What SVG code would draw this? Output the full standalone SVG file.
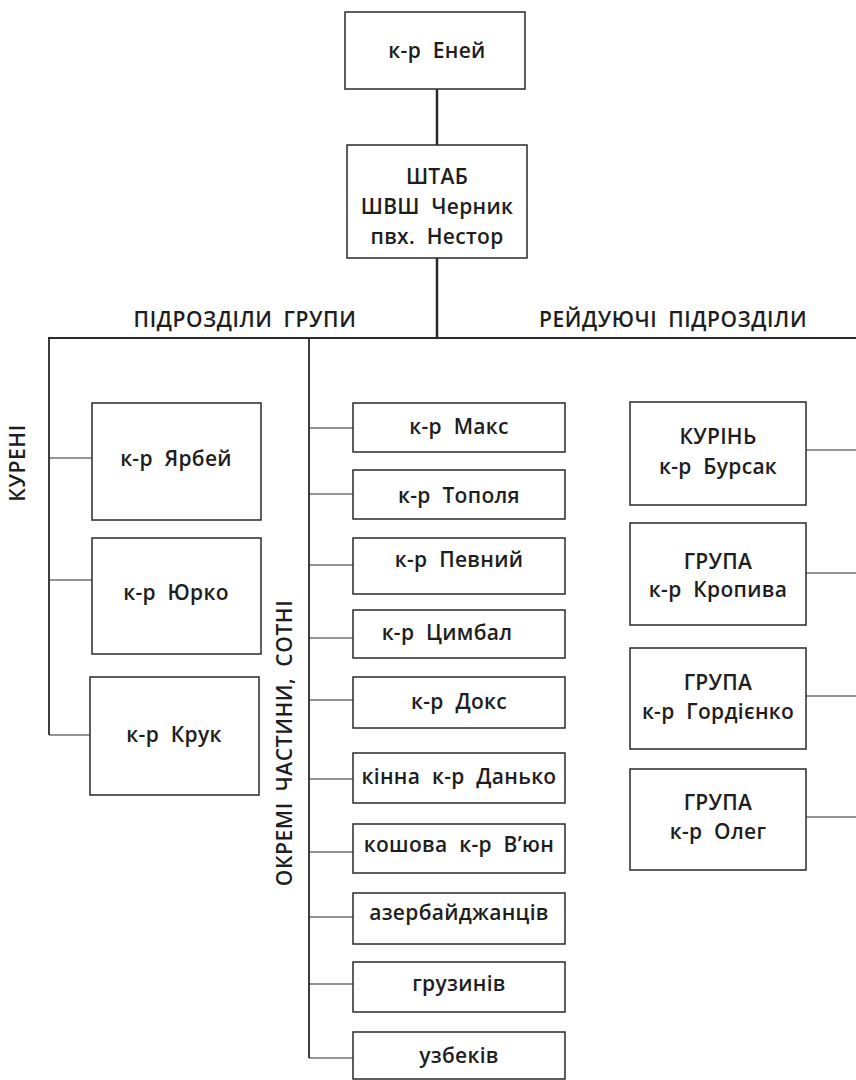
<svg xmlns="http://www.w3.org/2000/svg" width="856" height="1080" viewBox="0 0 856 1080">
<style>
.box{fill:#fff;stroke:#2a2a2a;stroke-width:1.5}
.t{font-family:"Open Sans","Noto Sans","DejaVu Sans",sans-serif;font-size:21px;font-weight:600;fill:#1e1e1e;text-anchor:middle;word-spacing:6px;letter-spacing:0.3px}
.lab{font-family:"Open Sans","Noto Sans","DejaVu Sans",sans-serif;font-size:21px;font-weight:600;fill:#1e1e1e;text-anchor:middle;word-spacing:5px;letter-spacing:0.6px}
.main{stroke:#2a2a2a;stroke-width:2.5;fill:none}
.trunk{stroke:#2a2a2a;stroke-width:1.8;fill:none}
.br{stroke:#2a2a2a;stroke-width:1.2;fill:none}
</style>
<rect width="856" height="1080" fill="#fff"/>
<g id="connectors">
<line class="main" x1="437" y1="89" x2="437" y2="145"/>
<line class="main" x1="437" y1="258" x2="437" y2="338"/>
<line class="trunk" x1="48" y1="338" x2="856" y2="338"/>
<line class="trunk" x1="49" y1="338" x2="49" y2="735"/>
<line class="br" x1="49" y1="458" x2="92" y2="458"/>
<line class="br" x1="49" y1="580" x2="92" y2="580"/>
<line class="br" x1="49" y1="735" x2="90" y2="735"/>
<line class="trunk" x1="309" y1="338" x2="309" y2="1058"/>
<line class="br" x1="309" y1="428" x2="353" y2="428"/>
<line class="br" x1="309" y1="494" x2="353" y2="494"/>
<line class="br" x1="309" y1="565" x2="353" y2="565"/>
<line class="br" x1="309" y1="638" x2="353" y2="638"/>
<line class="br" x1="309" y1="700" x2="353" y2="700"/>
<line class="br" x1="309" y1="779" x2="353" y2="779"/>
<line class="br" x1="309" y1="852" x2="353" y2="852"/>
<line class="br" x1="309" y1="917" x2="353" y2="917"/>
<line class="br" x1="309" y1="984" x2="353" y2="984"/>
<line class="br" x1="309" y1="1058" x2="353" y2="1058"/>
<line class="br" x1="806" y1="450" x2="856" y2="450"/>
<line class="br" x1="806" y1="573" x2="856" y2="573"/>
<line class="br" x1="806" y1="696" x2="856" y2="696"/>
<line class="br" x1="806" y1="817" x2="856" y2="817"/>
</g>
<g id="labels">
<text class="lab" x="245" y="327">ПІДРОЗДІЛИ ГРУПИ</text>
<text class="lab" x="673" y="327">РЕЙДУЮЧІ ПІДРОЗДІЛИ</text>
<text class="lab" transform="translate(25,463) rotate(-90)">КУРЕНІ</text>
<text class="lab" transform="translate(292,743) rotate(-90)">ОКРЕМІ ЧАСТИНИ, СОТНІ</text>
</g>
<g id="n-enei"><rect class="box" x="345" y="12" width="180" height="77"/><text class="t" x="437" y="58">к-р Еней</text></g>
<g id="n-shtab"><rect class="box" x="347" y="145" width="180" height="113"/><text class="t" x="437" y="184">ШТАБ</text><text class="t" x="437" y="214">ШВШ Черник</text><text class="t" x="437" y="244">пвх. Нестор</text></g>
<g id="n-yarbei"><rect class="box" x="92" y="403" width="169" height="117"/><text class="t" x="176" y="466">к-р Ярбей</text></g>
<g id="n-yurko"><rect class="box" x="92" y="538" width="169" height="116"/><text class="t" x="176" y="600">к-р Юрко</text></g>
<g id="n-kruk"><rect class="box" x="90" y="677" width="169" height="118"/><text class="t" x="174" y="742">к-р Крук</text></g>
<g id="n-maks"><rect class="box" x="353" y="403" width="212" height="49"/><text class="t" x="459" y="434">к-р Макс</text></g>
<g id="n-topolia"><rect class="box" x="353" y="470" width="212" height="49"/><text class="t" x="459" y="503">к-р Тополя</text></g>
<g id="n-pevnyi"><rect class="box" x="353" y="538" width="212" height="56"/><text class="t" x="459" y="567">к-р Певний</text></g>
<g id="n-tsymbal"><rect class="box" x="353" y="610" width="212" height="48"/><text class="t" x="447" y="640">к-р Цимбал</text></g>
<g id="n-doks"><rect class="box" x="353" y="677" width="212" height="51"/><text class="t" x="459" y="709">к-р Докс</text></g>
<g id="n-danko"><rect class="box" x="353" y="753" width="212" height="50"/><text class="t" x="459" y="784">кінна к-р Данько</text></g>
<g id="n-viun"><rect class="box" x="353" y="824" width="212" height="49"/><text class="t" x="459" y="852">кошова к-р В’юн</text></g>
<g id="n-azer"><rect class="box" x="353" y="893" width="212" height="51"/><text class="t" x="459" y="920">азербайджанців</text></g>
<g id="n-gruz"><rect class="box" x="353" y="962" width="212" height="50"/><text class="t" x="459" y="991">грузинів</text></g>
<g id="n-uzbek"><rect class="box" x="353" y="1032" width="212" height="47"/><text class="t" x="459" y="1063">узбеків</text></g>
<g id="n-bursak"><rect class="box" x="630" y="402" width="176" height="103"/><text class="t" x="718" y="444">КУРІНЬ</text><text class="t" x="718" y="474">к-р Бурсак</text></g>
<g id="n-kropyva"><rect class="box" x="630" y="523" width="176" height="102"/><text class="t" x="718" y="569">ГРУПА</text><text class="t" x="718" y="597">к-р Кропива</text></g>
<g id="n-gordienko"><rect class="box" x="630" y="648" width="176" height="101"/><text class="t" x="718" y="690">ГРУПА</text><text class="t" x="718" y="719">к-р Гордієнко</text></g>
<g id="n-oleg"><rect class="box" x="630" y="769" width="176" height="101"/><text class="t" x="718" y="810">ГРУПА</text><text class="t" x="718" y="839">к-р Олег</text></g>
</svg>
